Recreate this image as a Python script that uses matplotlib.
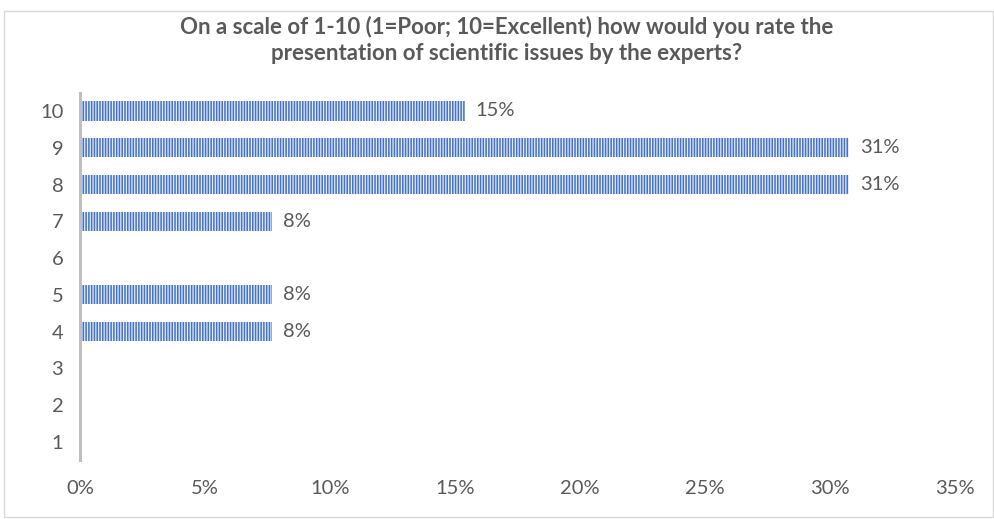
import matplotlib
matplotlib.use('Agg')
import matplotlib.pyplot as plt
from matplotlib.patches import Rectangle

# ── Data ───────────────────────────────────────────────────────────────────────
ratings = [1, 2, 3, 4, 5, 6, 7, 8, 9, 10]
shares  = [0, 0, 0, 1/13, 1/13, 0, 1/13, 4/13, 4/13, 2/13]
x_ticks = [0, 0.05, 0.10, 0.15, 0.20, 0.25, 0.30, 0.35]

TITLE = ('On a scale of 1-10 (1=Poor; 10=Excellent) how would you rate the\n'
         'presentation of scientific issues by the experts?')

BLUE  = '#4472C4'
GREY  = '#595959'

plt.rcParams['font.family'] = ['Lato', 'DejaVu Sans']
plt.rcParams['hatch.linewidth'] = 0.9

fig = plt.figure(figsize=(9.94, 5.19), dpi=100)
ax = fig.add_axes([80/994, 1 - 460.4/519, 875/994, 367.8/519])

bars = ax.barh(ratings, shares, height=0.52, color=BLUE, edgecolor='#E4EBF7',
               linewidth=0, hatch='||||||')

for r, v in zip(ratings, shares):
    if v > 0:
        ax.annotate(f'{v:.0%}', xy=(v, r), xytext=(8, 0), textcoords='offset points',
                    va='center', ha='left', fontsize=14.5, color=GREY)

ax.set_xlim(0, 0.35)
ax.set_ylim(0.5, 10.5)
ax.set_yticks(ratings)
ax.set_yticklabels([str(r) for r in ratings])
ax.set_xticks(x_ticks)
ax.set_xticklabels([f'{t:.0%}' for t in x_ticks])
ax.tick_params(axis='both', length=0, labelsize=14.5, labelcolor=GREY)
ax.tick_params(axis='y', pad=12)
ax.tick_params(axis='x', pad=14)

for side in ['top', 'right', 'bottom']:
    ax.spines[side].set_visible(False)
ax.spines['left'].set_color('#BFBFBF')
ax.spines['left'].set_linewidth(2.2)

fig.text(507/994, 1 - 40/519, TITLE, ha='center', va='center', fontsize=16,
         fontweight='bold', color=GREY, linespacing=1.3)

# chart frame
fig.patches.append(Rectangle((4/994, 1 - 517/519), 989/994, 506/519,
                             transform=fig.transFigure, fill=False,
                             edgecolor='#D9D9D9', linewidth=1))

fig.savefig('out.png', dpi=100)
